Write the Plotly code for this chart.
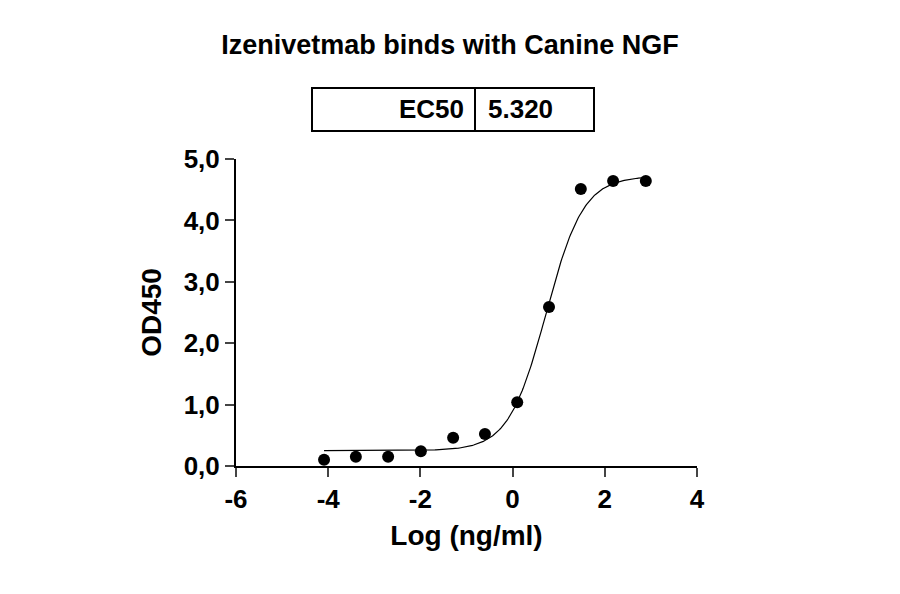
import numpy as np
import plotly.graph_objects as go

log_conc = [-4.09, -3.40, -2.70, -1.99, -1.29, -0.60, 0.10, 0.79, 1.48, 2.18, 2.89]
od450 = [0.10, 0.15, 0.15, 0.24, 0.46, 0.52, 1.04, 2.59, 4.51, 4.64, 4.64]
bottom, top, ec50, hill = 0.25, 4.72, 5.320, 1.07
y_ticks = [0, 1, 2, 3, 4, 5]
y_labels = ["0,0", "1,0", "2,0", "3,0", "4,0", "5,0"]
x_ticks = [-6, -4, -2, 0, 2, 4]
x_labels = ["-6", "-4", "-2", "0", "2", "4"]

xf = np.linspace(min(log_conc), max(log_conc), 300)
yf = bottom + (top - bottom) / (1 + 10 ** ((np.log10(ec50) - xf) * hill))

font = "Liberation Sans"
fig = go.Figure()
fig.add_trace(go.Scatter(x=xf, y=yf, mode="lines", line=dict(color="black", width=1.2), hoverinfo="skip"))
fig.add_trace(go.Scatter(x=log_conc, y=od450, mode="markers", marker=dict(color="black", size=12)))

OFF = 8
L, R, T, B = 236 - OFF, 697 - OFF, 159 - OFF, 466 - OFF
def px(x): return (x - OFF - L) / (R - L)
def py(y): return (B - (y - OFF)) / (B - T)

fig.update_layout(
    width=900, height=594, showlegend=False,
    plot_bgcolor="white", paper_bgcolor="white",
    margin=dict(l=L, r=900 - R, t=T, b=594 - B),
    font=dict(family=font, color="black"),
    title=dict(text="<b>Izenivetmab binds with Canine NGF</b>", x=(450 - OFF) / 900, xanchor="center",
               y=1 - (45 - OFF) / 594, yanchor="middle", font=dict(size=27)),
    xaxis=dict(range=[-6, 4], tickvals=x_ticks, ticktext=x_labels, showgrid=False, zeroline=False,
               showline=True, linecolor="black", linewidth=2, ticks="outside", ticklen=9,
               tickwidth=2, tickfont=dict(size=26, family=font, weight="bold"),
               title=dict(text="<b>Log (ng/ml)</b>", font=dict(size=28), standoff=12)),
    yaxis=dict(range=[0, 5], tickvals=y_ticks, ticktext=y_labels, showgrid=False, zeroline=False,
               showline=True, linecolor="black", linewidth=2, ticks="outside", ticklen=9,
               tickwidth=2, tickfont=dict(size=26, family=font, weight="bold"),
               title=dict(text="<b>OD450</b>", font=dict(size=28), standoff=14)),
    shapes=[
        dict(type="rect", xref="paper", yref="paper", x0=px(312), x1=px(594), y0=py(131), y1=py(88),
             line=dict(color="black", width=2)),
        dict(type="line", xref="paper", yref="paper", x0=px(475), x1=px(475), y0=py(131), y1=py(88),
             line=dict(color="black", width=2)),
    ],
    annotations=[
        dict(text="<b>EC50</b>", xref="paper", yref="paper", x=px(466), y=py(109.5),
             xanchor="right", yanchor="middle", showarrow=False, font=dict(size=26)),
        dict(text="<b>5.320</b>", xref="paper", yref="paper", x=px(486), y=py(109.5),
             xanchor="left", yanchor="middle", showarrow=False, font=dict(size=26)),
    ],
)
fig.write_html("out.html")
